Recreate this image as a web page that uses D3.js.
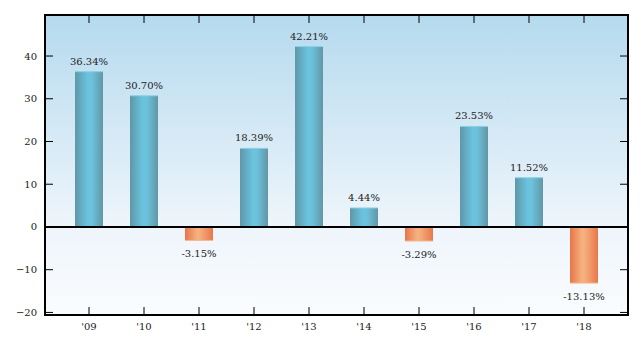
<!DOCTYPE html>
<html><head><meta charset="utf-8">
<script src="https://cdn.jsdelivr.net/npm/d3@7"></script>
<style>body{margin:0;background:#fff}text{font-family:"DejaVu Serif",serif}</style>
</head><body>
<svg id="c" width="641" height="347"></svg>
<script>
const years = [2009,2010,2011,2012,2013,2014,2015,2016,2017,2018];
const tickLabels = ["'09","'10","'11","'12","'13","'14","'15","'16","'17","'18"];
const values = [36.34,30.70,-3.15,18.39,42.21,4.44,-3.29,23.53,11.52,-13.13];
const yTicks = [-20,-10,0,10,20,30,40];

const svg = d3.select("#c");
const L=45,R=628,T=15,B=315;
const x = d3.scaleLinear().domain([2008.2,2018.8]).range([L,R]);
const y = d3.scaleLinear().domain([-20.6,49.6]).range([B,T]);
const defs = svg.append("defs");
const bg = defs.append("linearGradient").attr("id","bg").attr("x1",0).attr("y1",0).attr("x2",0).attr("y2",1);
bg.append("stop").attr("offset","0%").attr("stop-color","#b5daee");
bg.append("stop").attr("offset","70%").attr("stop-color","#eef5fb");
bg.append("stop").attr("offset","100%").attr("stop-color","#fafcfe");
const gb = defs.append("linearGradient").attr("id","gb");
[["0%","#5f97a8"],["45%","#6ac3de"],["60%","#6cc2dc"],["100%","#6196a6"]].forEach(s=>gb.append("stop").attr("offset",s[0]).attr("stop-color",s[1]));
const go = defs.append("linearGradient").attr("id","go");
[["0%","#e87548"],["45%","#f5b382"],["60%","#f3a676"],["100%","#e8774a"]].forEach(s=>go.append("stop").attr("offset",s[0]).attr("stop-color",s[1]));

svg.append("rect").attr("x",L).attr("y",T).attr("width",R-L).attr("height",B-T).attr("fill","url(#bg)");

const bwPx = 28;
svg.selectAll("rect.bar").data(values).join("rect").attr("class","bar")
  .attr("x",(d,i)=>x(years[i])-bwPx/2).attr("width",bwPx)
  .attr("y",d=>d>=0?y(d):y(0)).attr("height",d=>Math.abs(y(d)-y(0)))
  .attr("fill",d=>d>=0?"url(#gb)":"url(#go)");
svg.selectAll("line.cap").data(values).join("line").attr("class","cap")
  .attr("x1",(d,i)=>x(years[i])-bwPx/2).attr("x2",(d,i)=>x(years[i])+bwPx/2)
  .attr("y1",d=>y(d)).attr("y2",d=>y(d))
  .attr("stroke",d=>d>=0?"#8ccfe2":"#f6b894").attr("stroke-width",1);

svg.selectAll("text.lbl").data(values).join("text").attr("class","lbl")
  .attr("x",(d,i)=>x(years[i])).attr("y",d=>d>=0?y(d)-7:y(d)+16.5)
  .attr("text-anchor","middle").attr("font-size",10).attr("fill","#222")
  .text(d=>d.toFixed(2)+"%");

svg.append("line").attr("x1",L).attr("x2",R).attr("y1",y(0)).attr("y2",y(0)).attr("stroke","#000").attr("stroke-width",2);

const ay = svg.append("g");
yTicks.forEach(t=>{
  ay.append("line").attr("x1",L).attr("x2",L+8).attr("y1",y(t)).attr("y2",y(t)).attr("stroke","#000");
  ay.append("line").attr("x1",R-8).attr("x2",R).attr("y1",y(t)).attr("y2",y(t)).attr("stroke","#000");
  ay.append("text").attr("x",L-8).attr("y",y(t)+3.5).attr("text-anchor","end").attr("font-size",10).attr("fill","#222")
    .text(t<0?"\u2212"+Math.abs(t):t);
});
years.forEach((yr,i)=>{
  ay.append("line").attr("x1",x(yr)).attr("x2",x(yr)).attr("y1",T).attr("y2",T+8).attr("stroke","#000");
  ay.append("line").attr("x1",x(yr)).attr("x2",x(yr)).attr("y1",B-8).attr("y2",B).attr("stroke","#000");
  ay.append("text").attr("x",x(yr)).attr("y",B+15).attr("text-anchor","middle").attr("font-size",10).attr("fill","#222").text(tickLabels[i]);
});
svg.append("rect").attr("x",L).attr("y",T).attr("width",R-L).attr("height",B-T).attr("fill","none").attr("stroke","#000").attr("stroke-width",2);
</script>
</body></html>
